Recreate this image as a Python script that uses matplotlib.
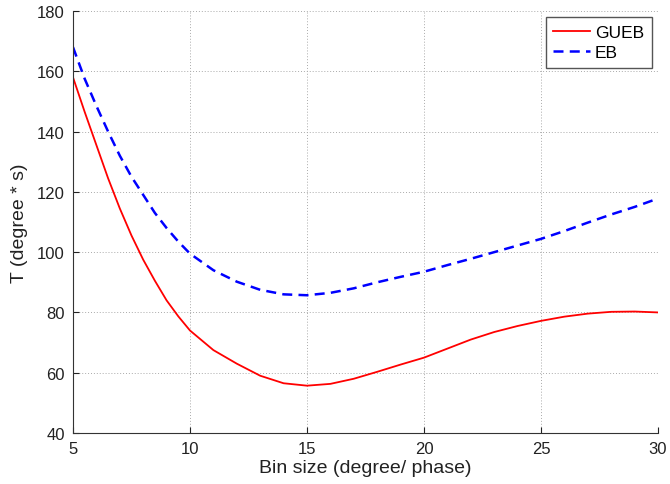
import numpy as np
import matplotlib
matplotlib.use("Agg")
import matplotlib.pyplot as plt

plt.rcParams['font.family'] = ['Liberation Sans', 'DejaVu Sans']

# values
bin_size = [5, 5.5, 6, 6.5, 7, 7.5, 8, 8.5, 9, 9.5, 10, 11, 12, 13, 14, 15, 16, 17, 18, 19, 20,
            21, 22, 23, 24, 25, 26, 27, 28, 29, 30]
gueb = [158, 146.5, 135.5, 124.5, 114.5, 105.5, 97.5, 90.5, 84, 78.7, 74, 67.5, 63, 59, 56.5,
        55.7, 56.3, 58, 60.3, 62.7, 65, 68, 71, 73.5, 75.5, 77.2, 78.6, 79.6, 80.2, 80.3, 80]
eb = [168, 157.5, 148.5, 140, 132, 125, 119, 113, 108, 103.5, 99.5, 94, 90.2, 87.5, 86, 85.7,
      86.5, 88, 90, 91.8, 93.5, 95.7, 97.8, 100, 102.2, 104.4, 107, 109.8, 112.5, 115, 117.8]

fig = plt.figure(figsize=(6.7, 4.85), dpi=100)
ax = fig.add_axes([73 / 670, 51 / 485, 585 / 670, 422 / 485])

ax.plot(bin_size, gueb, color='#ff0000', lw=1.3, label='GUEB')
ax.plot(bin_size, eb, color='#0000ff', lw=1.8, ls=(0, (4, 2.5)), label='EB')

ax.set_xlim(5, 30)
ax.set_ylim(40, 180)
ax.set_xticks([5, 10, 15, 20, 25, 30])
ax.set_yticks(range(40, 181, 20))
ax.grid(True, color='#aaaaaa', lw=0.7, ls=(0, (1, 2)))
ax.spines['top'].set_visible(False)
ax.spines['right'].set_visible(False)
for s in ('left', 'bottom'):
    ax.spines[s].set_color('#333333')
ax.tick_params(direction='in', length=4, labelsize=12, pad=6, colors='#222222')
ax.set_xlabel('Bin size (degree/ phase)', fontsize=14, labelpad=2, color='#222222')
ax.set_ylabel('T (degree * s)', fontsize=14, labelpad=6, color='#222222')

leg = ax.legend(loc='upper right', fontsize=12.5, fancybox=False, framealpha=1,
                edgecolor='#555555', handlelength=2.1, handletextpad=0.3,
                borderaxespad=0.35, borderpad=0.45, labelspacing=0.3)
leg.get_frame().set_linewidth(1.0)

plt.savefig('out.png')
